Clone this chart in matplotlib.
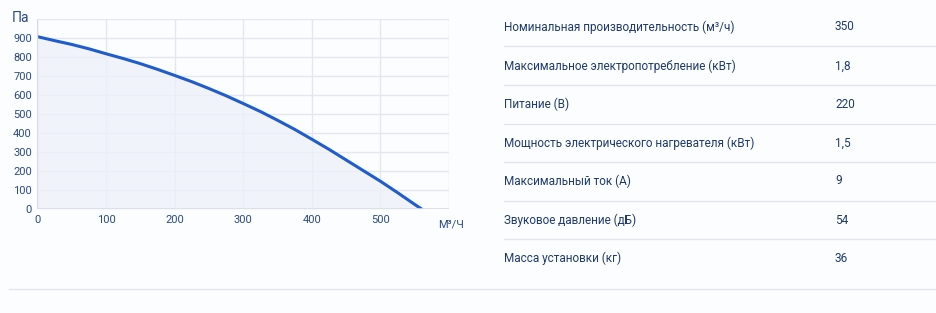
import matplotlib.pyplot as plt

# fan curve: flow (m3/h) vs pressure (Pa)
flow = [0, 25, 50, 75, 100, 125, 150, 175, 200, 225, 250, 275, 300,
        325, 350, 375, 400, 425, 450, 475, 500, 525, 550, 560]
pressure = [907, 886, 866, 843, 817, 792, 765, 735, 703, 670, 634, 596, 555,
            513, 467, 419, 367, 314, 258, 202, 146, 86, 24, 0]

x_ticks = [0, 100, 200, 300, 400, 500]
y_ticks = [0, 100, 200, 300, 400, 500, 600, 700, 800, 900]

params = [
    'Номинальная производительность (м³/ч)',
    'Максимальное электропотребление (кВт)',
    'Питание (В)',
    'Мощность электрического нагревателя (кВт)',
    'Максимальный ток (А)',
    'Звуковое давление (дБ)',
    'Масса установки (кг)',
]
values = ['350', '1,8', '220', '1,5', '9', '54', '36']

text_color = '#1f3a6b'
tick_color = '#2b4a80'
grid_color = '#e4e7ee'
line_color = '#1f5ccc'
bg = '#fcfdfe'

plt.rcParams['font.family'] = ['Roboto', 'DejaVu Sans']

W, H = 937, 313
fig = plt.figure(figsize=(W / 100, H / 100), dpi=100, facecolor=bg)

# chart
ax = fig.add_axes([37.5 / W, 1 - 209 / H, 411.5 / W, 190 / H])
ax.set_facecolor(bg)
ax.set_xlim(0, 600)
ax.set_ylim(0, 1000)
ax.fill_between(flow, pressure, 0, color='#eef1f9', alpha=0.8, lw=0)
ax.plot(flow, pressure, color=line_color, lw=2.2, solid_capstyle='round')
ax.set_xticks(x_ticks + [600])
ax.set_xticklabels([str(v) for v in x_ticks] + [''])
ax.set_yticks(y_ticks + [1000])
ax.set_yticklabels([str(v) for v in y_ticks] + [''])
ax.grid(True, color=grid_color, lw=1)
ax.set_axisbelow(True)
for s in ax.spines.values():
    s.set_visible(False)
ax.tick_params(length=0, labelsize=8, colors=tick_color, pad=4)
ax.axhline(0, color='#d8dce5', lw=1.2)
ax.axvline(0, color='#d8dce5', lw=1)

fig.text(12 / W, 1 - 18 / H, 'Па', fontsize=10, color=tick_color, va='center')
fig.text(438 / W, 1 - 225 / H, 'М³/Ч', fontsize=8, color=tick_color, va='center')

# parameters table
row_y = [27, 66, 104, 143, 181, 220, 258]
for yy, p, v in zip(row_y, params, values):
    fig.text(504 / W, 1 - yy / H, p, fontsize=8.5, color=text_color, va='center')
    fig.text(835 / W, 1 - yy / H, v, fontsize=8.5, color=text_color, va='center')

for yy in [46, 85, 124, 162, 201, 239]:
    fig.add_artist(plt.Line2D([504 / W, 1], [1 - yy / H, 1 - yy / H],
                              color='#e2e5ec', lw=1))
fig.add_artist(plt.Line2D([9 / W, 1], [1 - 289 / H, 1 - 289 / H],
                          color='#e2e5ec', lw=1))

plt.savefig('out.png', dpi=100, facecolor=bg)
